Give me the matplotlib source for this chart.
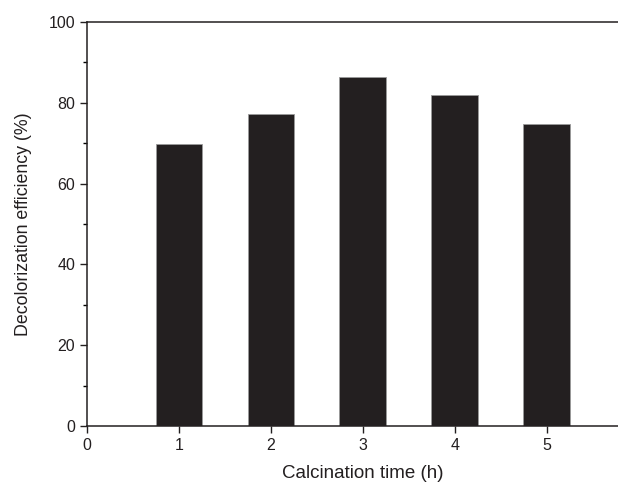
import matplotlib
matplotlib.use('Agg')
import matplotlib.pyplot as plt
from matplotlib.ticker import MultipleLocator

plt.rcParams['font.family'] = ['Liberation Sans', 'DejaVu Sans']

hours = [1, 2, 3, 4, 5]
efficiency = [69.8, 77.2, 86.4, 81.8, 74.7]

fig = plt.figure(figsize=(6.18, 4.88), dpi=100)
ax = fig.add_axes([0.1408, 0.127, 0.893, 0.828])

ax.bar(hours, efficiency, width=0.51, color='#231f20', edgecolor='#9a9a9a', linewidth=0.6)

ax.set_xlim(0, 6)
ax.set_ylim(0, 100)
ax.set_xticks([0, 1, 2, 3, 4, 5])
ax.set_yticks([0, 20, 40, 60, 80, 100])
ax.yaxis.set_minor_locator(MultipleLocator(10))
ax.tick_params(axis='both', which='major', direction='out', length=5, width=1, labelsize=11.5, colors='#231f20')
ax.tick_params(axis='y', which='minor', direction='out', length=3, width=1)
for s in ax.spines.values():
    s.set_linewidth(1.1)
    s.set_color('#231f20')

ax.set_xlabel('Calcination time (h)', fontsize=13.5, color='#231f20', labelpad=9)
ax.set_ylabel('Decolorization efficiency (%)', fontsize=12.8, color='#231f20', labelpad=12)

fig.savefig('out.png', dpi=100)
